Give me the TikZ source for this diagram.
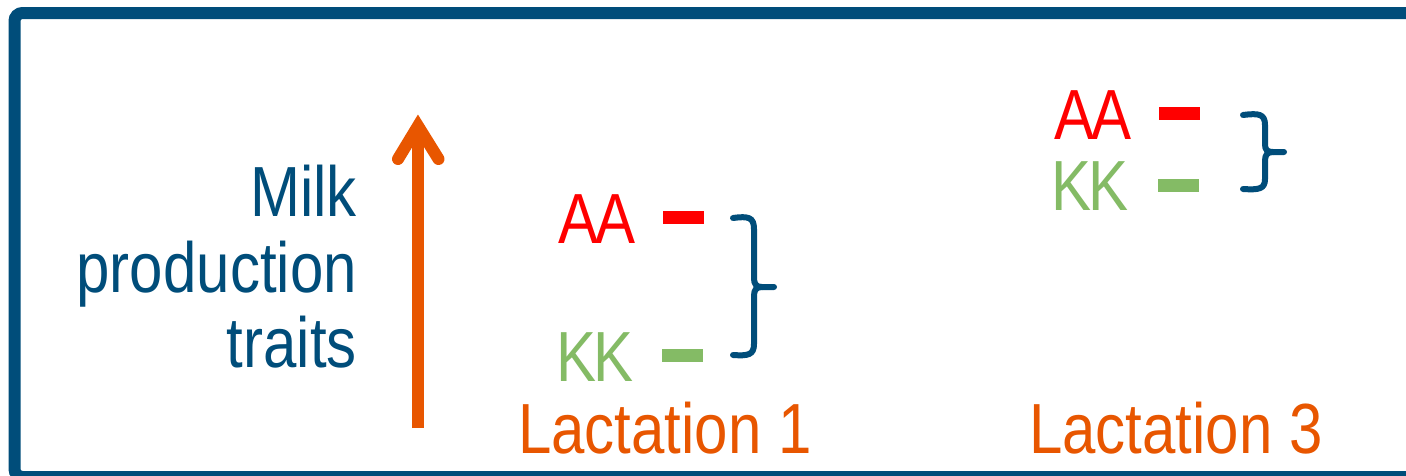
\documentclass[tikz,border=0pt]{standalone}
\usepackage{fontspec}
\setmainfont[FakeStretch=0.845]{Liberation Sans}
\definecolor{frameblue}{RGB}{0,77,122}
\definecolor{arroworange}{RGB}{232,86,0}
\definecolor{kkgreen}{RGB}{132,187,101}
\definecolor{aared}{RGB}{255,0,0}
\tikzset{
  bigtext/.style={inner sep=0pt, font=\fontsize{71}{75}\selectfont},
  dashbox/.style={draw=none, inner sep=0pt, minimum width=41pt, minimum height=13pt},
  bracepath/.style={draw=frameblue, line width=6pt, line cap=round, line join=round},
}
\begin{document}
\begin{tikzpicture}[x=1pt,y=-1pt]
\useasboundingbox (0,0) rectangle (1406,475);
\clip (0,0) rectangle (1406,475);
\fill[white] (0,0) rectangle (1406,475);
% frame
\draw[frameblue, line width=12pt, rounded corners=8pt] (14.5,13) rectangle (1430,477);
% arrow
\coordinate (abot) at (418,428);
\coordinate (atop) at (418,126);
\draw[arroworange, line width=12pt] (abot) -- (atop);
\draw[arroworange, line width=12pt, line cap=round, line join=miter] (398,159) -- (atop) -- (438.5,159);
% left label
\node[bigtext, text=frameblue, anchor=base east] (l1) at (357,216) {Milk};
\node[bigtext, text=frameblue, anchor=base east] (l2) at (357,292) {production};
\node[bigtext, text=frameblue, anchor=base east] (l3) at (357,367) {traits};
% lactation 1
\node[bigtext, text=aared, anchor=base west] (aa1) at (558,243) {A\kern-3pt A};
\node[bigtext, text=kkgreen, anchor=base west] (kk1) at (556,381) {K\kern-3pt K};
\node[dashbox, fill=aared] (ra1) at (683.5,217.5) {};
\node[dashbox, fill=kkgreen] (ga1) at (682.5,355.5) {};
\draw[bracepath] (733,218) .. controls (748,216) and (754,217) .. (754,229) -- (754,278) .. controls (754,284) and (756,287) .. (762,287) -- (774,287);
\draw[bracepath] (733,355) .. controls (748,356) and (754,355) .. (754,344) -- (754,296) .. controls (754,290) and (756,287) .. (762,287);
\node[bigtext, text=arroworange, anchor=base west] (lac1) at (518,453) {Lactation 1};
% lactation 3
\node[bigtext, text=aared, anchor=base west] (aa3) at (1054,139) {A\kern-3pt A};
\node[bigtext, text=kkgreen, anchor=base west] (kk3) at (1051,210) {K\kern-3pt K};
\node[dashbox, fill=aared] (ra3) at (1179.5,113.5) {};
\node[dashbox, fill=kkgreen] (ga3) at (1178.5,185.5) {};
\draw[bracepath] (1243,115) .. controls (1259,113) and (1265,114) .. (1265,125) -- (1265,144) .. controls (1265,150) and (1267,152) .. (1273,152) -- (1284,152);
\draw[bracepath] (1243,189) .. controls (1259,190) and (1265,189) .. (1265,179) -- (1265,161) .. controls (1265,155) and (1267,152) .. (1273,152);
\node[bigtext, text=arroworange, anchor=base west] (lac3) at (1029,453) {Lactation 3};
\end{tikzpicture}
\end{document}
